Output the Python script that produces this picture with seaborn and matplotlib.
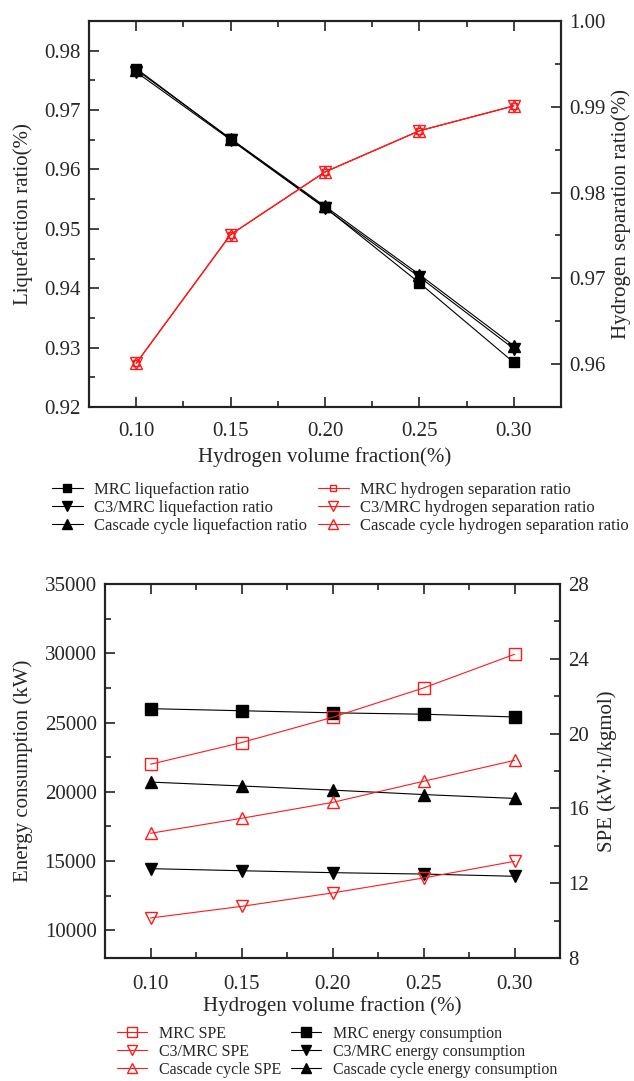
import matplotlib
matplotlib.use("Agg")
import matplotlib.pyplot as plt
import seaborn as sns
import pandas as pd
from matplotlib.ticker import MultipleLocator

sns.set_theme(style="ticks")
plt.rcParams['font.family'] = ['Liberation Serif', 'DejaVu Serif']
plt.rcParams['mathtext.fontset'] = 'stix'

# ---------------- data ----------------
h2_fraction = [0.10, 0.15, 0.20, 0.25, 0.30]

# top chart: liquefaction ratio (left) and hydrogen separation ratio (right)
mrc_liq = [0.9770, 0.9651, 0.9536, 0.9409, 0.9275]
c3mrc_liq = [0.9764, 0.9650, 0.9535, 0.9419, 0.9298]
cascade_liq = [0.9768, 0.9652, 0.9538, 0.9423, 0.9303]

mrc_sep = [0.9601, 0.9751, 0.9824, 0.9872, 0.9901]
c3mrc_sep = [0.9601, 0.9751, 0.9824, 0.9872, 0.9901]
cascade_sep = [0.9601, 0.9751, 0.9824, 0.9872, 0.9901]

# bottom chart: energy consumption (left) and SPE (right)
mrc_energy = [26000, 25850, 25700, 25600, 25400]
c3mrc_energy = [14450, 14300, 14160, 14060, 13900]
cascade_energy = [20700, 20420, 20120, 19800, 19520]

mrc_spe = [18.36, 19.52, 20.87, 22.44, 24.24]
c3mrc_spe = [10.14, 10.76, 11.48, 12.28, 13.17]
cascade_spe = [14.67, 15.47, 16.32, 17.45, 18.57]

x_ticks = [0.10, 0.15, 0.20, 0.25, 0.30]

# ---------------- figure ----------------
W, H = 634, 1081
fig = plt.figure(figsize=(W / 100, H / 100), dpi=100)

def frac_box(l, t, r, b):
    return [l / W, 1 - b / H, (r - l) / W, (b - t) / H]

ax1 = fig.add_axes(frac_box(89, 21, 561, 407))
ax1r = ax1.twinx()
ax2 = fig.add_axes(frac_box(105, 584, 560, 958))
ax2r = ax2.twinx()

RED = '#ff1a1a'
LW = 0.8
TICKFS = 15
LABFS = 15

def draw(ax, y, label, color, marker, filled, ms):
    df = pd.DataFrame({'x': h2_fraction, 'y': y})
    sns.lineplot(data=df, x='x', y='y', ax=ax, color=color, marker=marker,
                 markersize=ms, linewidth=LW,
                 markerfacecolor=(color if filled else 'none'),
                 markeredgecolor=color, markeredgewidth=1.0,
                 label=label, legend=False)
    return ax.get_lines()[-1]

# top chart
h_top_black = [
    draw(ax1, mrc_liq, 'MRC liquefaction ratio', 'black', 's', True, 7),
    draw(ax1, c3mrc_liq, 'C3/MRC liquefaction ratio', 'black', 'v', True, 8),
    draw(ax1, cascade_liq, 'Cascade cycle liquefaction ratio', 'black', '^', True, 8),
]
h_top_red = [
    draw(ax1r, mrc_sep, 'MRC hydrogen separation ratio', RED, 's', False, 5),
    draw(ax1r, c3mrc_sep, 'C3/MRC hydrogen separation ratio', RED, 'v', False, 8),
    draw(ax1r, cascade_sep, 'Cascade cycle hydrogen separation ratio', RED, '^', False, 8),
]

# bottom chart
h_bot_black = [
    draw(ax2, mrc_energy, 'MRC energy consumption', 'black', 's', True, 8),
    draw(ax2, c3mrc_energy, 'C3/MRC energy consumption', 'black', 'v', True, 9),
    draw(ax2, cascade_energy, 'Cascade cycle energy consumption', 'black', '^', True, 9),
]
h_bot_red = [
    draw(ax2r, mrc_spe, 'MRC SPE', RED, 's', False, 8),
    draw(ax2r, c3mrc_spe, 'C3/MRC SPE', RED, 'v', False, 9),
    draw(ax2r, cascade_spe, 'Cascade cycle SPE', RED, '^', False, 9),
]

for a in (ax1, ax1r, ax2, ax2r):
    leg = a.get_legend()
    if leg is not None:
        leg.remove()

# axes formatting
def style_axes(ax, axr, ylim, yr_lim, ymaj, ymin, yrmaj, yrmin, yfmt, yrfmt, xpad):
    ax.set_xlim(0.075, 0.325)
    ax.set_xticks(x_ticks)
    ax.set_xticklabels([f"{v:.2f}" for v in x_ticks])
    ax.xaxis.set_minor_locator(MultipleLocator(0.025))
    ax.set_ylim(*ylim)
    ax.yaxis.set_major_locator(MultipleLocator(ymaj))
    ax.yaxis.set_minor_locator(MultipleLocator(ymin))
    ax.yaxis.set_major_formatter(yfmt)
    axr.set_ylim(*yr_lim)
    axr.yaxis.set_major_locator(MultipleLocator(yrmaj))
    axr.yaxis.set_minor_locator(MultipleLocator(yrmin))
    axr.yaxis.set_major_formatter(yrfmt)
    for a in (ax, axr):
        for s in a.spines.values():
            s.set_linewidth(1.5)
            s.set_color('#222222')
            s.set_visible(True)
    ax.tick_params(axis='x', which='both', direction='in', top=True, bottom=True,
                   labelsize=TICKFS, pad=xpad, color='#222222')
    ax.tick_params(axis='y', which='both', direction='in', left=True, right=False,
                   labelsize=TICKFS, pad=6, color='#222222')
    axr.tick_params(axis='y', which='both', direction='in', right=True, left=False,
                    labelsize=TICKFS, pad=6, color='#222222')
    for a in (ax, axr):
        a.tick_params(which='major', length=7, width=1.2)
        a.tick_params(which='minor', length=4, width=1.2)
    ax.set_xlabel('')
    axr.set_xlabel('')

style_axes(ax1, ax1r, (0.92, 0.985), (0.955, 1.00), 0.01, 0.005, 0.01, 0.005,
           lambda v, p: f"{v:.2f}", lambda v, p: f"{v:.2f}", 11)
style_axes(ax2, ax2r, (8000, 35000), (8, 28), 5000, 2500, 4, 2,
           lambda v, p: f"{v:.0f}", lambda v, p: f"{v:.0f}", 12)

ax1.set_xlabel('Hydrogen volume fraction(%)', fontsize=LABFS, labelpad=4)
ax1.set_ylabel('Liquefaction ratio(%)', fontsize=LABFS, labelpad=8)
ax1r.set_ylabel('Hydrogen separation ratio(%)', fontsize=LABFS, labelpad=4)

ax2.set_xlabel('Hydrogen volume fraction (%)', fontsize=LABFS, labelpad=2)
ax2.set_ylabel('Energy consumption (kW)', fontsize=LABFS, labelpad=8)
ax2r.set_ylabel('SPE (kW\u00b7h/kgmol)', fontsize=LABFS, labelpad=6)

# legends
def add_legend(handles, x_px, y_px, fs, tpad):
    leg = fig.legend(handles=handles, labels=[h.get_label() for h in handles],
                     loc='upper left', bbox_to_anchor=(x_px / W, 1 - y_px / H),
                     frameon=False, fontsize=fs, borderpad=0, borderaxespad=0,
                     handlelength=1.85, handletextpad=tpad, labelspacing=0.12,
                     markerscale=0.85)
    return leg

add_legend(h_top_black, 52, 482, 12, 0.7)
add_legend(h_top_red, 318, 482, 12, 0.7)
add_legend(h_bot_red, 117, 1026, 11.5, 0.75)
add_legend(h_bot_black, 291, 1026, 11.5, 0.75)

fig.savefig('out.png', dpi=100)
